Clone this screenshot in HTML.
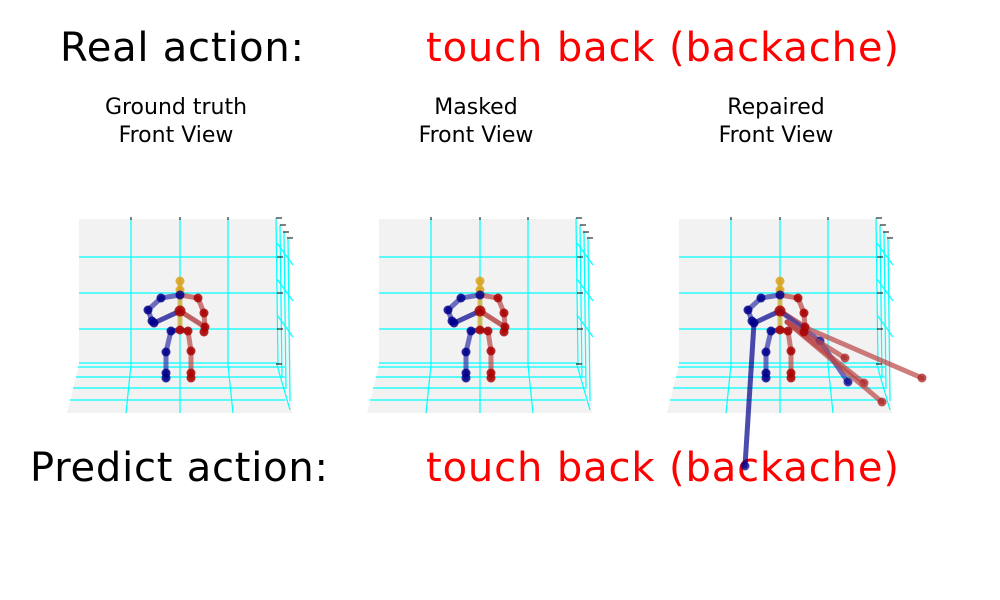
<!DOCTYPE html>
<html><head><meta charset="utf-8"><style>
html,body{margin:0;padding:0;background:#fff}
svg{display:block;font-family:"DejaVu Sans","Liberation Sans",sans-serif}
</style></head><body>
<svg id="fig" width="1000" height="600" viewBox="0 0 1000 600">
<text x="60" y="61" font-size="40" textLength="244">Real action:</text>
<text x="426" y="61" font-size="40" fill="#ff0000" textLength="473">touch back (backache)</text>
<text x="30" y="481" font-size="40" textLength="298">Predict action:</text>
<text x="426" y="481" font-size="40" fill="#ff0000" textLength="473">touch back (backache)</text>
<g id="panels"></g>
</svg>
<script>
const titles1 = ["Ground truth","Masked","Repaired"];
const panelOffsets = [0,300,600];
// joints (panel-1 coordinates)
const jointNames = ["head","neck","thorax","spine","hip","lsho","lelb","lwr1","lwr2","rsho","relb","rwr1","rwr2","lhip","lkne","lank1","lank2","rhip","rkne","rank1","rank2"];
const jointX = [180,180,180,180,180,161,148,152,154,198,204,205,204,171,166,166,166,188,191,191,191];
const jointY = [281,290,295,311,330,298,310,321,323,298,313,327,332,331,352,373,378,331,351,373,378];
const jointColor = ["#daa520","#daa520","#00008b","#aa0000","#aa0000","#00008b","#00008b","#00008b","#00008b","#aa0000","#aa0000","#aa0000","#aa0000","#00008b","#00008b","#00008b","#00008b","#aa0000","#aa0000","#aa0000","#aa0000"];
const bones = [[0,1,"#daa520"],[1,2,"#daa520"],[2,3,"#daa520"],[3,4,"#daa520"],[2,5,"#3333aa"],[5,6,"#3333aa"],[6,7,"#3333aa"],[7,8,"#3333aa"],[3,8,"#00008b"],[2,9,"#bb4444"],[9,10,"#bb4444"],[10,11,"#bb4444"],[11,12,"#bb4444"],[3,11,"#aa2222"],[4,13,"#3333aa"],[13,14,"#3333aa"],[14,15,"#3333aa"],[15,16,"#3333aa"],[4,17,"#bb4444"],[17,18,"#bb4444"],[18,19,"#bb4444"],[19,20,"#bb4444"]];
// repaired-panel outlier segments (panel-1 coords)
const extraFromX = [154,180,220,187,187,187,204];
const extraFromY = [323,311,341,322,322,322,327];
const extraToX   = [145,220,248,245,264,282,322];
const extraToY   = [466,341,382,358,383,402,378];
const extraColor = ["#00008b","#3333aa","#3333aa","#bb4444","#bb4444","#bb4444","#bb4444"];
const NS="http://www.w3.org/2000/svg";
const root=document.getElementById('panels');
function mk(tag,attrs,parent){const e=document.createElementNS(NS,tag);for(const k in attrs)e.setAttribute(k,attrs[k]);parent.appendChild(e);return e;}
panelOffsets.forEach((dx,p)=>{
  const g=mk('g',{transform:`translate(${dx},0)`},root);
  
  
  const t1=mk('text',{x:176,y:114,'font-size':22,'text-anchor':'middle'},g);t1.textContent=titles1[p];
  
  
  const t2=mk('text',{x:176,y:142,'font-size':22,'text-anchor':'middle'},g);t2.textContent="Front View";
  
  
  mk('rect',{x:79,y:219,width:198,height:146,fill:'#f2f2f2'},g);
  mk('polygon',{points:'79,365 290,365 292,413 67,413',fill:'#f2f2f2'},g);
  mk('polygon',{points:'277,219 290,237 292,413 277,365',fill:'#f5f5f5'},g);
  const c='#00ffff';
  [131,180,228].forEach(x=>{mk('line',{x1:x,y1:219,x2:x,y2:365,stroke:c,'stroke-width':1.2},g);});
  [[131,126],[180,180],[228,233]].forEach(a=>{mk('line',{x1:a[0],y1:365,x2:a[1],y2:413,stroke:c,'stroke-width':1.2},g);});
  [257,293,329,363].forEach(y=>{mk('line',{x1:79,y1:y,x2:277,y2:y,stroke:c,'stroke-width':1.2},g);});
  [[367,78],[377,76],[388,73],[400,70]].forEach(a=>{mk('line',{x1:a[1],y1:a[0],x2:285,y2:a[0],stroke:c,'stroke-width':1.2},g);});
  [276,280,284,288].forEach((x,i)=>{mk('line',{x1:x,y1:218+i*7,x2:x+2,y2:365+i*12,stroke:c,'stroke-width':1.2},g);});
  [257,293,329].forEach(y=>{mk('line',{x1:277,y1:y-14,x2:293,y2:y+8,stroke:c,'stroke-width':1.2},g);});
  mk('line',{x1:277,y1:365,x2:290,y2:410,stroke:c,'stroke-width':1.2},g);
  [[276,218],[280,225],[283,232],[287,238],[277,257],[277,293],[277,329],[276,364]].forEach(a=>{mk('line',{x1:a[0],y1:a[1],x2:a[0]+6,y2:a[1],stroke:'#000','stroke-width':1},g);});
  [131,180,228].forEach(x=>{mk('line',{x1:x,y1:217,x2:x,y2:220,stroke:'#000','stroke-width':1},g);});
  bones.forEach(b=>{
    const l=mk('line',{x1:jointX[b[0]],y1:jointY[b[0]],x2:jointX[b[1]],y2:jointY[b[1]],stroke:b[2],'stroke-width':5,'stroke-opacity':0.7,'stroke-linecap':'round'},g);
    
    
  });
  if(p===2){
    extraFromX.forEach((x,i)=>{
      const l=mk('line',{x1:x,y1:extraFromY[i],x2:extraToX[i],y2:extraToY[i],stroke:extraColor[i],'stroke-width':5,'stroke-opacity':0.7,'stroke-linecap':'round'},g);
      
      
      const d=mk('circle',{cx:extraToX[i],cy:extraToY[i],r:4.5,fill:extraColor[i]==="#bb4444"?"#aa2222":"#00008b",'fill-opacity':0.75},g);
      
      
    });
  }
  jointX.forEach((x,i)=>{
    const d=mk('circle',{cx:x,cy:jointY[i],r:i===3?5.5:4.5,fill:jointColor[i],'fill-opacity':0.85},g);
    
    
  });
});
</script>
</body></html>
